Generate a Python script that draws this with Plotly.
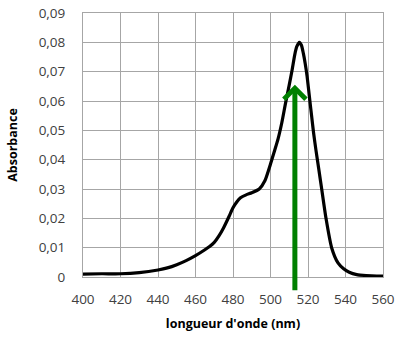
import plotly.graph_objects as go

wavelength = [400, 410, 420, 430, 440, 445, 450, 455, 460, 465, 467.5, 470, 472.5, 475, 478, 480, 482, 484, 487,
              490, 494, 497, 500, 502, 504, 506, 508, 510, 511.5, 513, 514, 515.4, 516.5, 517.5,
              518.5, 519.5, 521, 522, 523, 524.3, 525.7, 527.3, 529.6, 532.6, 536, 539, 542, 546, 551, 560]
absorbance = [0.0010, 0.0011, 0.0011, 0.0015, 0.0024, 0.0031, 0.0042, 0.0056, 0.0073, 0.0093, 0.0104, 0.0118,
              0.0140, 0.0168, 0.0208, 0.0236, 0.0256, 0.0270, 0.0280, 0.0287, 0.0300, 0.0328, 0.0385, 0.0427,
              0.0470, 0.0525, 0.0592, 0.0655, 0.0705, 0.0760, 0.0785, 0.0800, 0.0790, 0.0763, 0.0728, 0.0685,
              0.0600, 0.0545, 0.0490, 0.0430, 0.0370, 0.0300, 0.0200, 0.0100, 0.0048, 0.0028, 0.0016,
              0.0008, 0.0005, 0.0003]

x_ticks = [400, 420, 440, 460, 480, 500, 520, 540, 560]
y_ticks = [0, 0.01, 0.02, 0.03, 0.04, 0.05, 0.06, 0.07, 0.08, 0.09]
y_ticktext = ["0", "0,01", "0,02", "0,03", "0,04", "0,05", "0,06", "0,07", "0,08", "0,09"]

arrow_x = 513
arrow_y_start = -0.005
arrow_y_end = 0.0655

grid = "#a6a6a6"
font_family = "Open Sans, Liberation Sans, sans-serif"

fig = go.Figure()
fig.add_trace(go.Scatter(x=wavelength, y=absorbance, mode="lines",
                         line=dict(color="black", width=3.2, shape="spline", smoothing=0.6),
                         hoverinfo="skip", showlegend=False))

fig.add_annotation(x=arrow_x, y=arrow_y_end, ax=arrow_x, ay=arrow_y_start,
                   xref="x", yref="y", axref="x", ayref="y",
                   showarrow=True, arrowhead=4, arrowsize=0.85, arrowwidth=5,
                   arrowcolor="#008000", text="")

fig.update_layout(
    width=400, height=338,
    margin=dict(l=83, r=17, t=13, b=61),
    paper_bgcolor="white", plot_bgcolor="white",
    font=dict(family=font_family, size=13, color="#404040"),
    separators=", ",
)
fig.update_xaxes(range=[400, 560], tickvals=x_ticks, ticktext=[str(v) for v in x_ticks],
                 showgrid=True, gridcolor=grid, gridwidth=1, automargin=False,
                 showline=True, linecolor=grid, linewidth=1, mirror=True,
                 zeroline=False, ticks="", ticklen=0, ticklabelstandoff=10,
                 title=dict(text="<b>longueur d'onde (nm)</b>", font=dict(size=12.5, color="#000000"), standoff=12),
                 tickfont=dict(size=13.5, color="#404040"))
fig.update_yaxes(range=[0, 0.09], tickvals=y_ticks, ticktext=y_ticktext,
                 showgrid=True, gridcolor=grid, gridwidth=1, automargin=False,
                 showline=True, linecolor=grid, linewidth=1, mirror=True,
                 zeroline=False, ticks="", ticklen=0, ticklabelstandoff=14,
                 title=dict(text="<b>Absorbance</b>", font=dict(size=12.5, color="#000000"), standoff=18),
                 tickfont=dict(size=13.5, color="#404040"))

fig.write_html("out.html")
